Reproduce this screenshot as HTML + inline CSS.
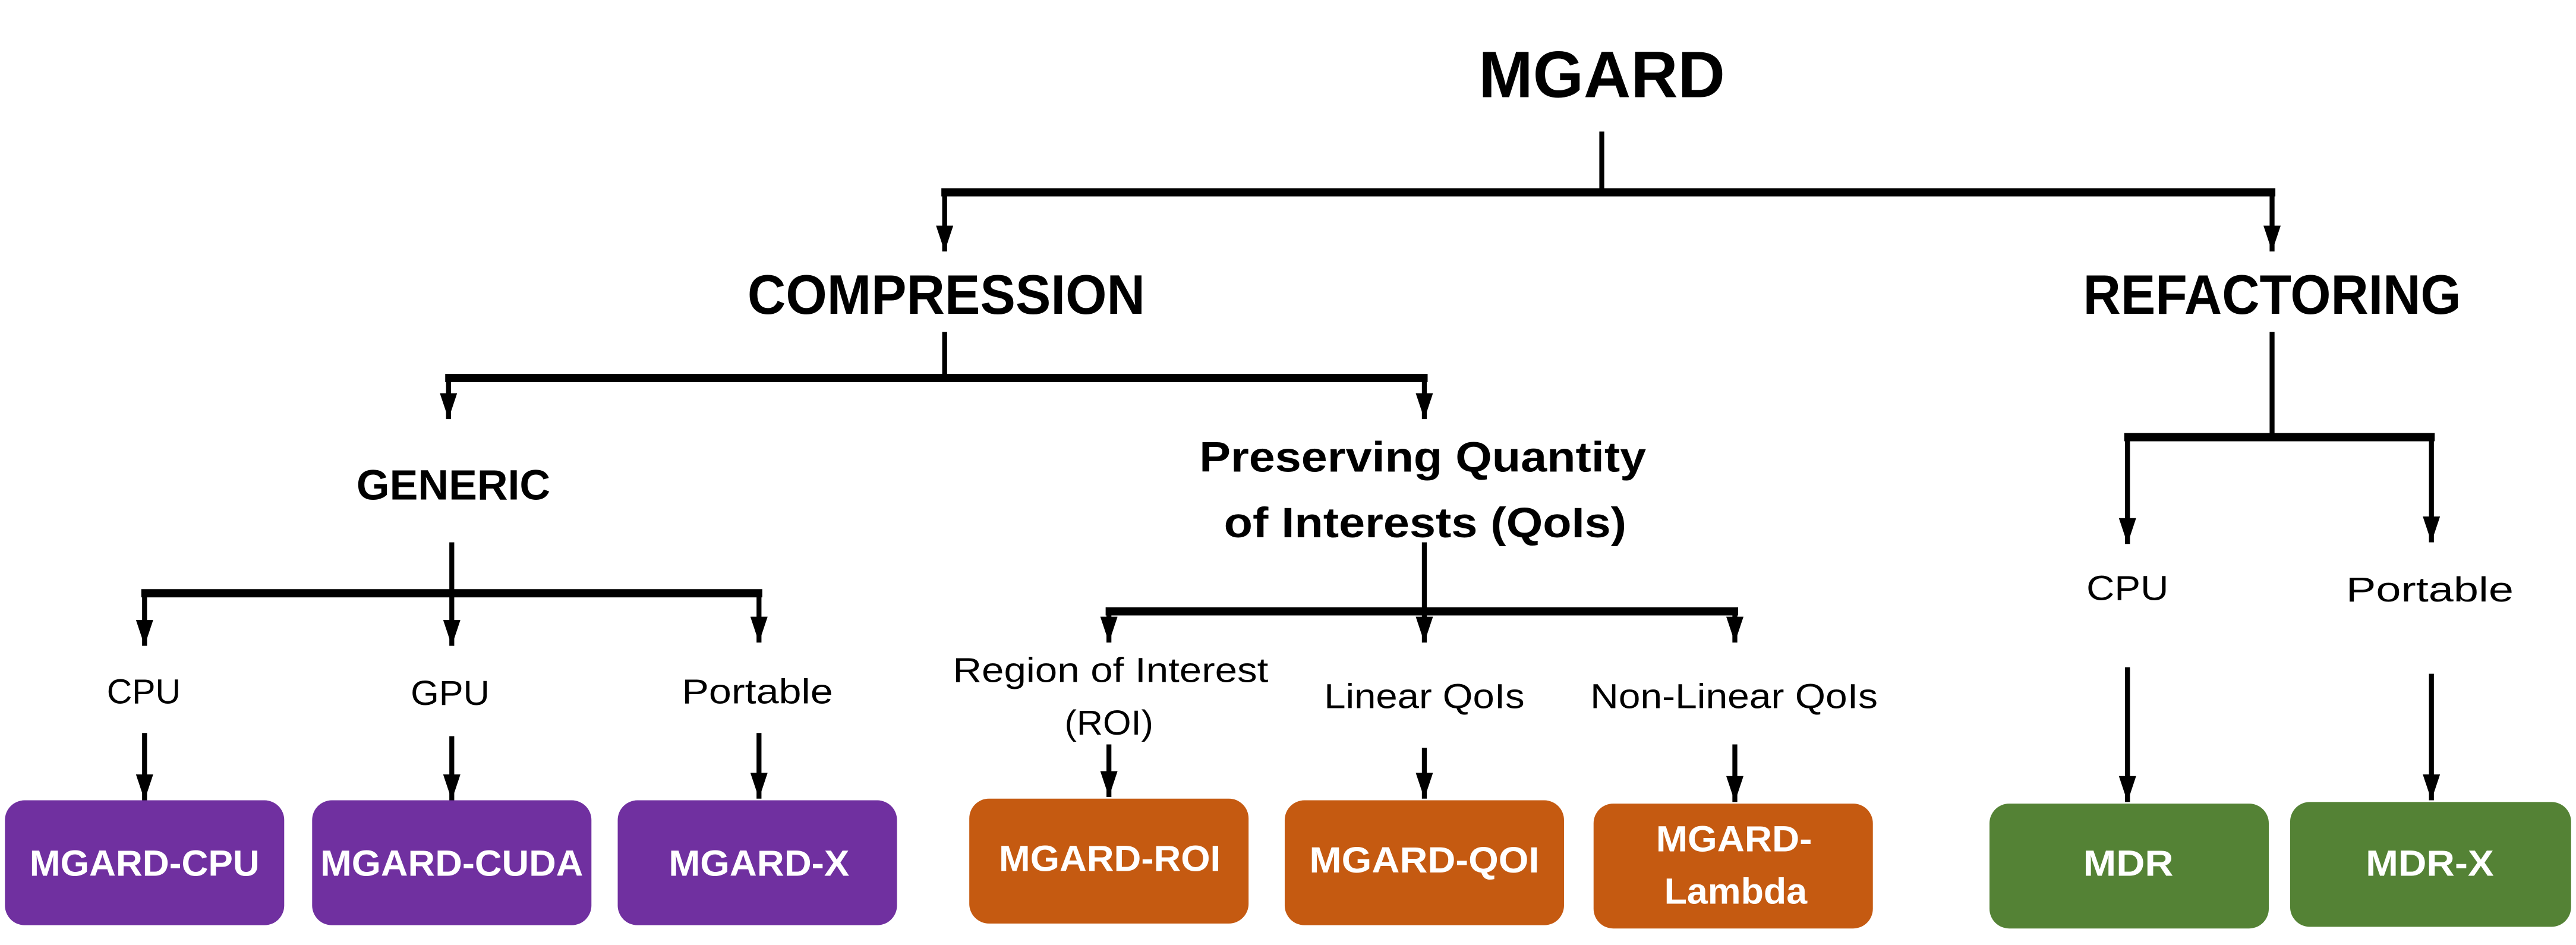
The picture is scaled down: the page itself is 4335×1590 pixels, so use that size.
<!DOCTYPE html>
<html><head><meta charset="utf-8"><style>html,body{margin:0;padding:0;background:#fff}svg{display:block}</style></head>
<body>
<svg width="4335" height="1590" viewBox="0 0 1568 575" xmlns="http://www.w3.org/2000/svg" font-family="Liberation Sans, sans-serif">
<defs>
<marker id="a" markerWidth="5.5" markerHeight="3.5" refX="6" refY="2" orient="auto" markerUnits="strokeWidth" viewBox="0 0 6 4">
<path d="M0,0 L6,2 L0,4 Z" fill="#000"/></marker>
</defs>
<rect width="1568" height="575" fill="#fff"/>
<g stroke="#000" stroke-width="3" fill="none">
<line x1="975" y1="80" x2="975" y2="117"/>
<line x1="573" y1="117" x2="1385" y2="117" stroke-width="5"/>
<line x1="575" y1="117" x2="575" y2="153" marker-end="url(#a)"/>
<line x1="1383" y1="117" x2="1383" y2="153" marker-end="url(#a)"/>
<line x1="575" y1="202" x2="575" y2="230"/>
<line x1="271" y1="230" x2="869" y2="230" stroke-width="5"/>
<line x1="273" y1="230" x2="273" y2="255" marker-end="url(#a)"/>
<line x1="867" y1="230" x2="867" y2="255" marker-end="url(#a)"/>
<line x1="1383" y1="202" x2="1383" y2="266"/>
<line x1="1293" y1="266" x2="1482" y2="266" stroke-width="5"/>
<line x1="1295" y1="266" x2="1295" y2="331" marker-end="url(#a)"/>
<line x1="1480" y1="266" x2="1480" y2="330" marker-end="url(#a)"/>
<line x1="275" y1="330" x2="275" y2="361"/>
<line x1="86" y1="361" x2="464" y2="361" stroke-width="5"/>
<line x1="88" y1="361" x2="88" y2="393" marker-end="url(#a)"/>
<line x1="275" y1="361" x2="275" y2="393" marker-end="url(#a)"/>
<line x1="462" y1="361" x2="462" y2="391" marker-end="url(#a)"/>
<line x1="867" y1="330" x2="867" y2="372"/>
<line x1="673" y1="372" x2="1058" y2="372" stroke-width="5"/>
<line x1="675" y1="372" x2="675" y2="391" marker-end="url(#a)"/>
<line x1="867" y1="372" x2="867" y2="391" marker-end="url(#a)"/>
<line x1="1056" y1="372" x2="1056" y2="391" marker-end="url(#a)"/>
<line x1="88" y1="446" x2="88" y2="487" marker-end="url(#a)"/>
<line x1="275" y1="448" x2="275" y2="487" marker-end="url(#a)"/>
<line x1="462" y1="446" x2="462" y2="486" marker-end="url(#a)"/>
<line x1="675" y1="453" x2="675" y2="485" marker-end="url(#a)"/>
<line x1="867" y1="455" x2="867" y2="486" marker-end="url(#a)"/>
<line x1="1056" y1="453" x2="1056" y2="488" marker-end="url(#a)"/>
<line x1="1295" y1="406" x2="1295" y2="488" marker-end="url(#a)"/>
<line x1="1480" y1="410" x2="1480" y2="487" marker-end="url(#a)"/>
</g>
<g>
<rect x="3" y="487" width="170" height="76" rx="12" fill="#7030a0"/>
<rect x="190" y="487" width="170" height="76" rx="12" fill="#7030a0"/>
<rect x="376" y="487" width="170" height="76" rx="12" fill="#7030a0"/>
<rect x="590" y="486" width="170" height="76" rx="12" fill="#c55a11"/>
<rect x="782" y="487" width="170" height="76" rx="12" fill="#c55a11"/>
<rect x="970" y="489" width="170" height="76" rx="12" fill="#c55a11"/>
<rect x="1211" y="489" width="170" height="76" rx="12" fill="#548235"/>
<rect x="1394" y="488" width="171" height="76" rx="12" fill="#548235"/>
</g>
<g font-weight="bold" fill="#000">
<text x="900" y="59" font-size="40" textLength="150" lengthAdjust="spacingAndGlyphs">MGARD</text>
<text x="455" y="191" font-size="34" textLength="242" lengthAdjust="spacingAndGlyphs">COMPRESSION</text>
<text x="1268" y="191" font-size="34" textLength="230" lengthAdjust="spacingAndGlyphs">REFACTORING</text>
<text x="217" y="304" font-size="26" textLength="118" lengthAdjust="spacingAndGlyphs">GENERIC</text>
<text x="730" y="287" font-size="26" textLength="272" lengthAdjust="spacingAndGlyphs">Preserving Quantity</text>
<text x="745" y="327" font-size="26" textLength="245" lengthAdjust="spacingAndGlyphs">of Interests (QoIs)</text>
</g>
<g fill="#000" font-size="21">
<text x="65" y="428" textLength="45" lengthAdjust="spacingAndGlyphs">CPU</text>
<text x="250" y="429" textLength="48" lengthAdjust="spacingAndGlyphs">GPU</text>
<text x="415" y="428" textLength="92" lengthAdjust="spacingAndGlyphs">Portable</text>
<text x="580" y="415" textLength="192" lengthAdjust="spacingAndGlyphs">Region of Interest</text>
<text x="648" y="447" textLength="54" lengthAdjust="spacingAndGlyphs">(ROI)</text>
<text x="806" y="431" textLength="122" lengthAdjust="spacingAndGlyphs">Linear QoIs</text>
<text x="968" y="431" textLength="175" lengthAdjust="spacingAndGlyphs">Non-Linear QoIs</text>
<text x="1270" y="365" textLength="50" lengthAdjust="spacingAndGlyphs">CPU</text>
<text x="1428" y="366" textLength="102" lengthAdjust="spacingAndGlyphs">Portable</text>
</g>
<g fill="#fff" font-weight="bold" font-size="22">
<text x="18" y="533" textLength="140" lengthAdjust="spacingAndGlyphs">MGARD-CPU</text>
<text x="195" y="533" textLength="160" lengthAdjust="spacingAndGlyphs">MGARD-CUDA</text>
<text x="407" y="533" textLength="110" lengthAdjust="spacingAndGlyphs">MGARD-X</text>
<text x="608" y="530" textLength="135" lengthAdjust="spacingAndGlyphs">MGARD-ROI</text>
<text x="797" y="531" textLength="140" lengthAdjust="spacingAndGlyphs">MGARD-QOI</text>
<text x="1008" y="518" textLength="95" lengthAdjust="spacingAndGlyphs">MGARD-</text>
<text x="1013" y="550" textLength="87" lengthAdjust="spacingAndGlyphs">Lambda</text>
<text x="1268" y="533" textLength="55" lengthAdjust="spacingAndGlyphs">MDR</text>
<text x="1440" y="533" textLength="78" lengthAdjust="spacingAndGlyphs">MDR-X</text>
</g>
</svg>
</body></html>
